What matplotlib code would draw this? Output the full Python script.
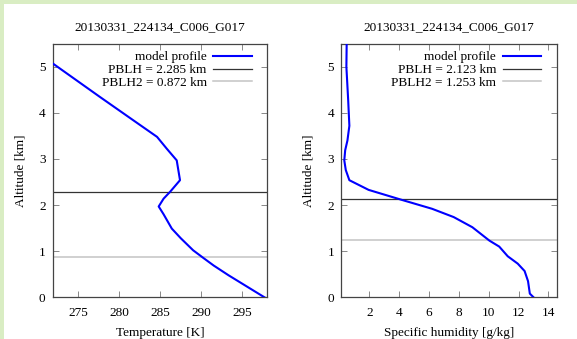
import matplotlib
matplotlib.use("Agg")
import matplotlib.pyplot as plt
from matplotlib.patches import Rectangle

plt.rcParams['font.family'] = ['Liberation Serif', 'DejaVu Serif']
plt.rcParams['font.size'] = 9.5

title = "20130331_224134_C006_G017"

# Temperature profile [K] vs altitude [km]
temp_alt = [5.07, 4.35, 3.84, 3.48, 3.22, 2.97, 2.54, 2.29, 2.14, 1.97,
            1.80, 1.49, 1.28, 1.02, 0.86, 0.69, 0.48, 0.24, 0.0]
temp_k = [271.9, 277.6, 281.7, 284.6, 285.8, 287.0, 287.4, 286.2, 285.4, 284.8,
          285.4, 286.4, 287.5, 289.0, 290.2, 291.5, 293.3, 295.5, 297.7]
temp_pblh = 2.285
temp_pblh2 = 0.872

# Specific humidity profile [g/kg] vs altitude [km]
hum_alt = [5.5, 5.0, 4.28, 3.72, 3.40, 3.19, 2.97, 2.76, 2.54, 2.33, 2.12,
           1.92, 1.74, 1.52, 1.23, 1.10, 0.89, 0.73, 0.57, 0.35, 0.08, 0.0]
hum_q = [0.48, 0.46, 0.58, 0.66, 0.53, 0.38, 0.32, 0.42, 0.66, 1.95, 4.1,
         6.2, 7.65, 8.9, 10.04, 10.7, 11.27, 11.94, 12.4, 12.63, 12.75, 13.0]
hum_pblh = 2.123
hum_pblh2 = 1.253

temp_ticks = [275, 280, 285, 290, 295]
hum_ticks = [2, 4, 6, 8, 10, 12, 14]
alt_ticks = [0, 1, 2, 3, 4, 5]

fig = plt.figure(figsize=(5.77, 3.39), dpi=100)
fig.patch.set_facecolor('white')

# light green frame strips along the top and left edges
border = '#d9edc3'
fig.add_artist(Rectangle((0, 1 - 4 / 339), 1, 4 / 339, transform=fig.transFigure,
                         facecolor=border, edgecolor='none', zorder=0))
fig.add_artist(Rectangle((0, 0), 4 / 577, 1, transform=fig.transFigure,
                         facecolor=border, edgecolor='none', zorder=0))

ax1 = fig.add_axes([0.091, 0.123, 0.3723, 0.748])
ax2 = fig.add_axes([0.591, 0.123, 0.3738, 0.748])

panels = [
    (ax1, temp_k, temp_alt, temp_pblh, temp_pblh2, (271.85, 298.05), temp_ticks,
     "Temperature [K]"),
    (ax2, hum_q, hum_alt, hum_pblh, hum_pblh2, (0.10, 14.55), hum_ticks,
     "Specific humidity [g/kg]"),
]

for ax, xs, ys, pblh, pblh2, xlim, xticks, xlabel in panels:
    ax.plot(xs, ys, color='#0000ff', lw=1.5, label='model profile', zorder=3)
    ax.axhline(pblh, color='#333333', lw=0.9, label=f'PBLH = {pblh:.3f} km', zorder=2)
    ax.axhline(pblh2, color='#c4c4c4', lw=1.1, label=f'PBLH2 = {pblh2:.3f} km', zorder=2)
    ax.set_xlim(*xlim)
    ax.set_ylim(0, 5.5)
    ax.set_xticks(xticks)
    ax.set_yticks(alt_ticks)
    ax.set_xlabel(xlabel, labelpad=6)
    ax.set_ylabel("Altitude [km]", labelpad=9)
    ax.set_title(title, pad=10, fontsize=9.5)
    ax.tick_params(direction='in', top=True, right=True, length=4, width=0.7,
                   color='#888888', labelsize=9.5)
    ax.tick_params(axis='x', pad=7)
    ax.tick_params(axis='y', pad=5)
    for sp in ax.spines.values():
        sp.set_color('#444444')
        sp.set_linewidth(0.9)
    ax.legend(loc='upper right', bbox_to_anchor=(0.927, 0.971), frameon=False,
              markerfirst=False, handlelength=2.9, handletextpad=0.5,
              labelspacing=0.05, borderaxespad=0.0, borderpad=0.0, fontsize=9.5)

fig.savefig("out.png", dpi=100, facecolor='white')
